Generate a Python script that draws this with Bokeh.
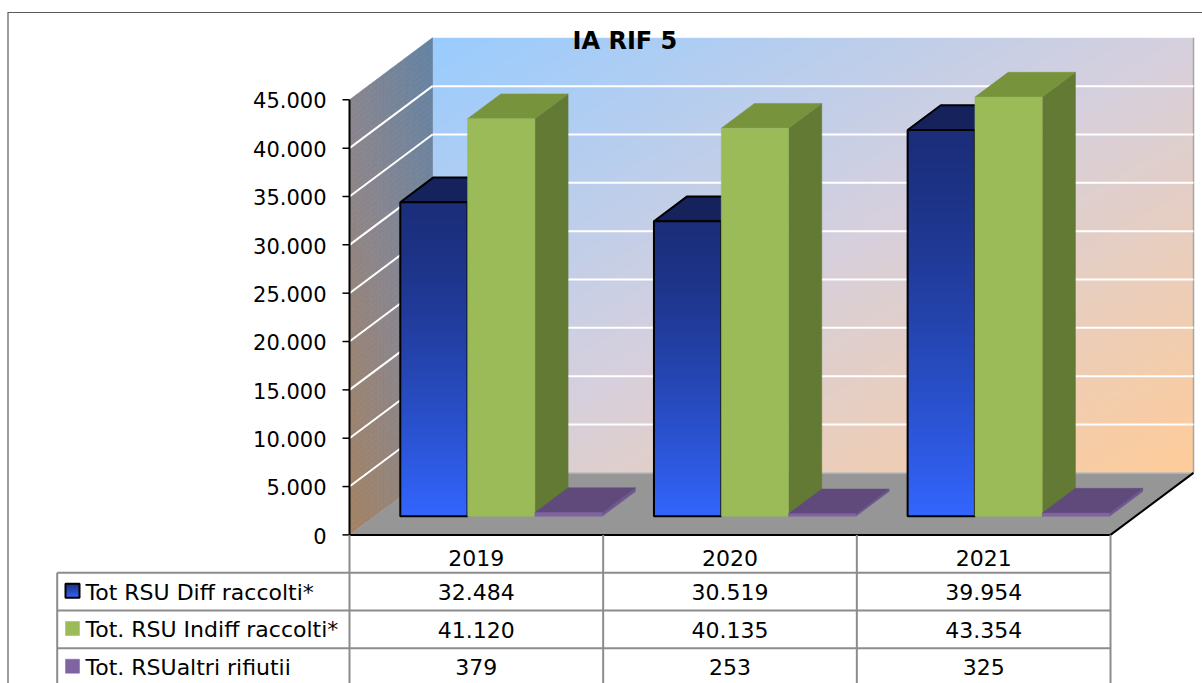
import numpy as np
from bokeh.plotting import figure
from bokeh.models import Range1d
from bokeh.embed import file_html
from bokeh.resources import INLINE
from bokeh.core.properties import value

# ---------------- data ----------------
chart_title = "IA RIF 5"
years = ["2019", "2020", "2021"]
series_labels = ["Tot RSU Diff raccolti*", "Tot. RSU Indiff raccolti*", "Tot. RSUaltri rifiutii"]
diff_raccolti = [32484, 30519, 39954]
indiff_raccolti = [41120, 40135, 43354]
altri_rifiuti = [379, 253, 325]
y_ticks = [0, 5000, 10000, 15000, 20000, 25000, 30000, 35000, 40000, 45000]
y_tick_labels = ["0", "5.000", "10.000", "15.000", "20.000", "25.000",
                 "30.000", "35.000", "40.000", "45.000"]
series_values = [diff_raccolti, indiff_raccolti, altri_rifiuti]


def fmt(v):
    return f"{v:,}".replace(",", ".")


# ---------------- layout (picture pixels) ----------------
W, H = 1202, 683
AX = 349.0          # x of the value axis (front plane)
CW = 253.67         # px per category
Y0 = 534.4          # y of value 0 on the front plane
K = 435.1 / 45000   # px per value unit
YMAX = y_ticks[-1]
NCAT = len(years)


def X(px):
    return (px - AX) / CW


def Y(py):
    return (Y0 - py) / K


DX = 83.0 / CW      # full depth offset, category units
DY = 62.0 / K       # full depth offset, value units
BW = 67.3 / CW      # bar width
GAP = (1 - 3 * BW) / 2
D0, D1 = 0.3, 0.7   # bar depth span
BASE_FIX = 0.33     # em correction for text baseline placement

FONT = value("DejaVu Sans")

p = figure(width=W, height=H,
           x_range=Range1d(X(0), X(W)),
           y_range=Range1d(Y(H), Y(0)),
           x_axis_location=None, y_axis_location=None,
           output_backend="svg", toolbar_location=None, min_border=0)
p.grid.visible = False
p.outline_line_color = None
p.background_fill_color = "white"
p.border_fill_color = "white"

# ---------------- gradient helpers ----------------
STOPS = [(0.0, (153, 204, 255)), (0.5, (214, 208, 222)), (1.0, (255, 204, 153))]


def grad(t):
    t = np.clip(np.asarray(t, dtype=float), 0, 1)
    out = []
    for ch in range(3):
        xs = [s[0] for s in STOPS]
        ys = [s[1][ch] for s in STOPS]
        out.append(np.interp(t, xs, ys))
    return out


def hexc(r, g, b):
    return "#%02x%02x%02x" % (int(round(r)), int(round(g)), int(round(b)))


def rgba_image(r, g, b):
    ny, nx = r.shape
    img = np.empty((ny, nx), dtype=np.uint32)
    view = img.view(dtype=np.uint8).reshape((ny, nx, 4))
    view[..., 0] = np.clip(r, 0, 255).astype(np.uint8)
    view[..., 1] = np.clip(g, 0, 255).astype(np.uint8)
    view[..., 2] = np.clip(b, 0, 255).astype(np.uint8)
    view[..., 3] = 255
    return img


dark = np.array([27, 46, 123], dtype=float)
bright = np.array([51, 102, 255], dtype=float)


def blue_column(n=256, power=1.35):
    # row 0 = bottom of the image (bright), last row = top (dark)
    ftop = 1 - (np.arange(n) + 0.5) / n   # fraction measured from the top
    f = ftop ** power                     # 0 at top (dark), 1 at bottom (bright)
    cols = dark[None, :] + (bright - dark)[None, :] * f[:, None]
    return rgba_image(cols[:, 0:1], cols[:, 1:2], cols[:, 2:3])


# ---------------- back wall (gradient image) ----------------
NX, NY = 380, 220
u = (np.arange(NX) + 0.5) / NX
vtop = 1 - (np.arange(NY) + 0.5) / NY
T = (u[None, :] + vtop[:, None]) / 2
r, g, b = grad(T)
p.image_rgba(image=[rgba_image(r, g, b)], x=DX, y=DY, dw=NCAT, dh=YMAX)

# ---------------- side wall (shaded gradient cells) ----------------
NU, NV = 12, 80
sx, sy, sc = [], [], []
for i in range(NU):
    u0, u1 = i / NU, (i + 1) / NU
    for j in range(NV):
        v0, v1 = j / NV, (j + 1) / NV

        def P(uu, vt):
            return uu * DX, (1 - vt) * YMAX + uu * DY
        pts = [P(u0, v0), P(u1, v0), P(u1, v1), P(u0, v1)]
        sx.append([q[0] for q in pts])
        sy.append([q[1] for q in pts])
        cr, cg, cb = grad(((1 - (u0 + u1) / 2) + (v0 + v1) / 2) / 2)
        sc.append(hexc(cr * 0.64, cg * 0.64, cb * 0.64))
p.patches(sx, sy, fill_color=sc, line_color=sc, line_width=0.7)

# ---------------- floor ----------------
p.patch([0, NCAT, NCAT + DX, DX], [0, 0, DY, DY], fill_color="#969696", line_color=None)
p.segment(x0=[DX], y0=[DY], x1=[NCAT + DX], y1=[DY], line_color="#b8b8b8", line_width=1.5)
p.segment(x0=[NCAT + DX], y0=[DY], x1=[NCAT + DX], y1=[YMAX + DY], line_color="#a6a6a6", line_width=1.5)

# ---------------- gridlines ----------------
gv = y_ticks[1:-1]
p.segment(x0=[DX] * len(gv), y0=[v + DY for v in gv], x1=[NCAT + DX] * len(gv),
          y1=[v + DY for v in gv], line_color="white", line_width=2)
p.segment(x0=[0] * len(gv), y0=gv, x1=[DX] * len(gv), y1=[v + DY for v in gv],
          line_color="white", line_width=2)

# ---------------- bars ----------------
front_cols = [None, "#9bbb59", "#8064a2"]
top_cols = ["#15225c", "#77933c", "#5f4a7b"]
side_cols = ["#101a48", "#637a34", "#6f5890"]
ex, ey = (D1 - D0) * DX, (D1 - D0) * DY
blue_img = blue_column()

for c in range(NCAT):
    for s in range(3):
        v = series_values[s][c]
        x0 = c + GAP + s * BW + D0 * DX
        x1 = x0 + BW
        yb = D0 * DY
        yt = v + D0 * DY
        # side face
        p.patch([x1, x1 + ex, x1 + ex, x1], [yb, yb + ey, yt + ey, yt],
                fill_color=side_cols[s], line_color=side_cols[s], line_width=0.5)
        # top face
        if s == 0:
            p.patch([x0, x1, x1 + ex, x0 + ex], [yt, yt, yt + ey, yt + ey],
                    fill_color=top_cols[s], line_color="black", line_width=2)
        else:
            p.patch([x0, x1, x1 + ex, x0 + ex], [yt, yt, yt + ey, yt + ey],
                    fill_color=top_cols[s], line_color=top_cols[s], line_width=0.5)
        # front face
        if s == 0:
            p.image_rgba(image=[blue_img], x=x0, y=yb, dw=BW, dh=v)
            p.quad(left=[x0], right=[x1], top=[yt], bottom=[yb],
                   fill_color=None, line_color="black", line_width=2)
        else:
            p.quad(left=[x0], right=[x1], top=[yt], bottom=[yb],
                   fill_color=front_cols[s], line_color=front_cols[s], line_width=0.5)

# ---------------- value axis ----------------
AXIS_FS = 21
p.segment(x0=[0], y0=[0], x1=[0], y1=[YMAX], line_color="black", line_width=2)
p.segment(x0=[X(342)] * len(y_ticks), y0=y_ticks, x1=[0] * len(y_ticks), y1=y_ticks,
          line_color="black", line_width=1.5)
p.text(x=[X(326)] * len(y_ticks),
       y=[v - (7.6 - BASE_FIX * AXIS_FS) / K for v in y_ticks], text=y_tick_labels,
       text_font=FONT, text_font_size=f"{AXIS_FS}px", text_align="right",
       text_baseline="alphabetic", text_color="black")

# floor front edges
p.segment(x0=[0, NCAT], y0=[0, 0], x1=[NCAT, NCAT + DX], y1=[0, DY],
          line_color="black", line_width=2)

# ---------------- data table ----------------
TFS = 22
TL = 56.7
ROW_TOP = 572.3
ROW_H = 37.7
TBOT = 700
tcol = "#8c8c8c"
hy = [ROW_TOP + i * ROW_H for i in range(3)]
p.segment(x0=[X(TL)] * 3, y0=[Y(y) for y in hy], x1=[NCAT] * 3, y1=[Y(y) for y in hy],
          line_color=tcol, line_width=2)
p.segment(x0=[X(TL)], y0=[Y(ROW_TOP)], x1=[X(TL)], y1=[Y(TBOT)], line_color=tcol, line_width=2)
p.segment(x0=list(range(NCAT + 1)), y0=[0] * (NCAT + 1), x1=list(range(NCAT + 1)),
          y1=[Y(TBOT)] * (NCAT + 1), line_color=tcol, line_width=2)

fix = BASE_FIX * TFS
# header (categories)
p.text(x=[c + 0.5 for c in range(NCAT)], y=[Y(565.0 - fix)] * NCAT, text=years,
       text_font=FONT, text_font_size=f"{TFS}px", text_align="center",
       text_baseline="alphabetic", text_color="black")

for rI in range(3):
    base = ROW_TOP + rI * ROW_H + 26.5 - fix
    p.text(x=[X(85)], y=[Y(base)], text=[series_labels[rI]],
           text_font=FONT, text_font_size=f"{TFS}px", text_align="left",
           text_baseline="alphabetic", text_color="black")
    p.text(x=[c + 0.5 for c in range(NCAT)], y=[Y(base)] * NCAT,
           text=[fmt(vv) for vv in series_values[rI]],
           text_font=FONT, text_font_size=f"{TFS}px", text_align="center",
           text_baseline="alphabetic", text_color="black")
    ky0 = ROW_TOP + rI * ROW_H + 11.0
    if rI == 0:
        p.image_rgba(image=[blue_column(64, 1.0)], x=X(65), y=Y(ky0 + 14), dw=14 / CW, dh=14 / K)
        p.quad(left=[X(65)], right=[X(79)], top=[Y(ky0)], bottom=[Y(ky0 + 14)],
               fill_color=None, line_color="black", line_width=2)
    else:
        kcol = front_cols[rI]
        p.quad(left=[X(65)], right=[X(79)], top=[Y(ky0)], bottom=[Y(ky0 + 14)],
               fill_color=kcol, line_color=kcol, line_width=0.5)

# ---------------- title ----------------
TTS = 24
p.text(x=[X(624.4)], y=[Y(48.3 - BASE_FIX * TTS)], text=[chart_title], text_font=FONT,
       text_font_size=f"{TTS}px", text_font_style="bold", text_align="center",
       text_baseline="alphabetic", text_color="black")

# ---------------- chart border ----------------
p.segment(x0=[X(7.5), X(7)], y0=[Y(12), Y(12)], x1=[X(7.5), X(1202)], y1=[Y(700), Y(12)],
          line_color="#5a5a5a", line_width=1.2)

open("out.html", "w").write(file_html(p, INLINE))
